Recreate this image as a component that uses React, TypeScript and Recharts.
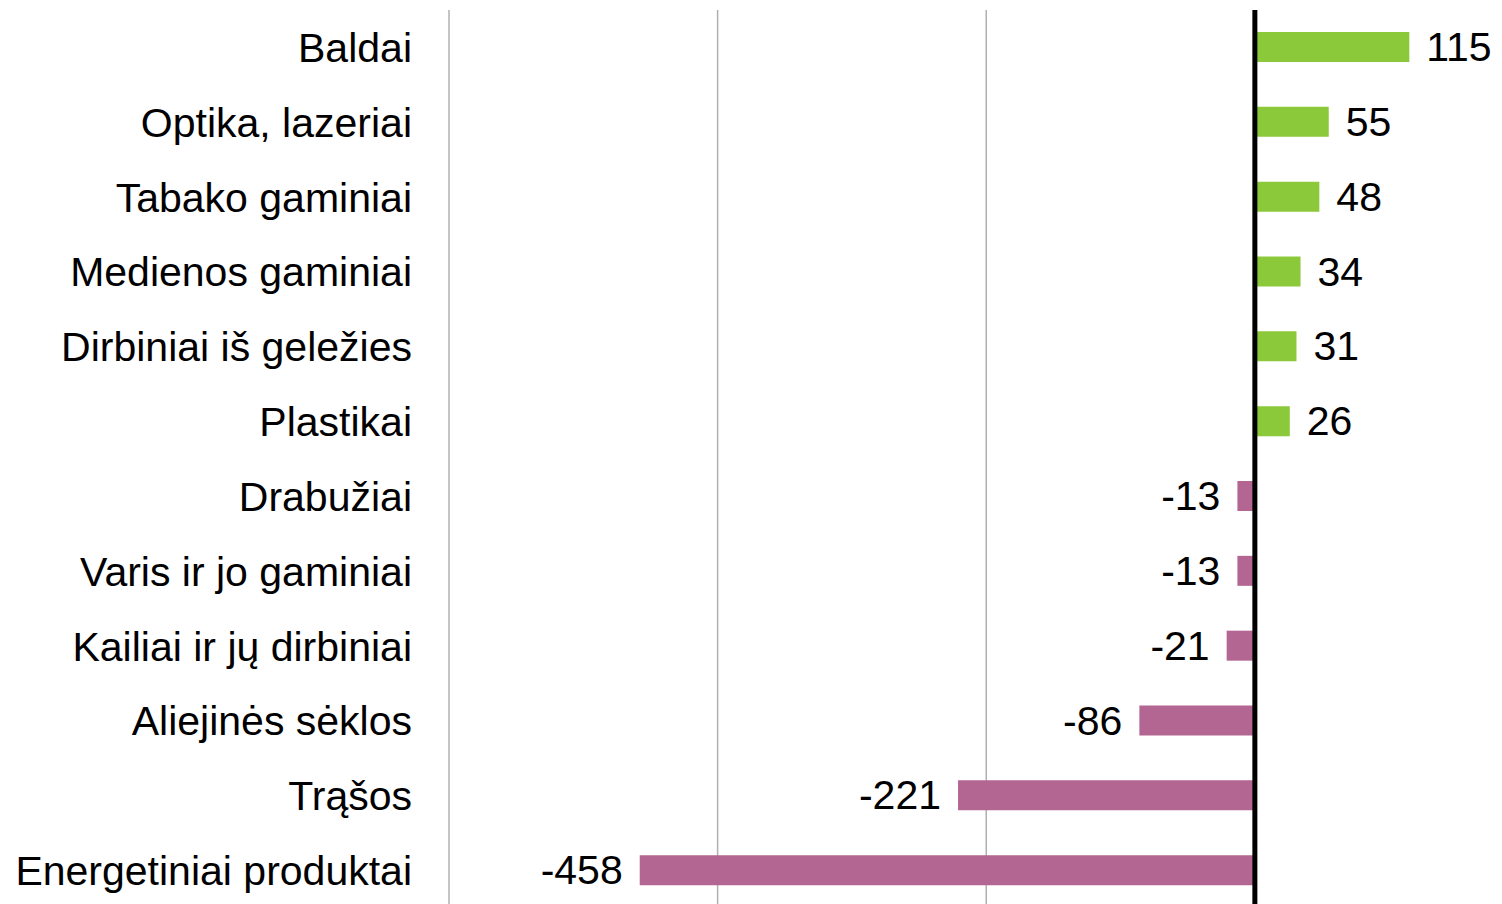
import React from 'react';
import { BarChart, Bar, XAxis, YAxis, CartesianGrid, ReferenceLine, Cell, LabelList } from 'recharts';

const categories = [
  'Baldai',
  'Optika, lazeriai',
  'Tabako gaminiai',
  'Medienos gaminiai',
  'Dirbiniai iš geležies',
  'Plastikai',
  'Drabužiai',
  'Varis ir jo gaminiai',
  'Kailiai ir jų dirbiniai',
  'Aliejinės sėklos',
  'Trąšos',
  'Energetiniai produktai',
];
const values = [115, 55, 48, 34, 31, 26, -13, -13, -21, -86, -221, -458];
const xTicks = [-600, -400, -200, 0];
const gridValues = [-600, -400, -200];

const POS = '#8CC93A';
const NEG = '#B36691';
const FONT = '"Liberation Sans", Arial, sans-serif';

const data = categories.map((name, i) => ({ name, value: values[i] }));

const ValueLabel = (props: any) => {
  const { x, y, width, height, value } = props;
  const left = Math.min(x, x + width);
  const right = Math.max(x, x + width);
  const cy = y + height / 2;
  const neg = value < 0;
  return (
    <text
      x={neg ? left - 17 : right + 17}
      y={cy}
      textAnchor={neg ? 'end' : 'start'}
      dominantBaseline="central"
      fontSize={41}
      fontFamily={FONT}
      fill="#000"
    >
      {value}
    </text>
  );
};

export default function App() {
  return (
    <div style={{ position: 'absolute', left: 0, top: 0, width: 1502, height: 904, overflow: 'hidden', background: '#fff' }}>
      <BarChart
        width={1502}
        height={908}
        data={data}
        layout="vertical"
        margin={{ top: 10, right: 0, bottom: 0, left: 0 }}
      >
        <CartesianGrid horizontal={false} verticalValues={gridValues} stroke="#B0B0B0" strokeWidth={1.5} />
        <XAxis type="number" domain={[-600, 184]} ticks={xTicks} allowDataOverflow hide />
        <YAxis
          type="category"
          dataKey="name"
          width={449}
          axisLine={false}
          tickLine={false}
          tickSize={0}
          tickMargin={37}
          tick={{ fontSize: 41, fontFamily: FONT, fill: '#000' }}
          interval={0}
        />
        <Bar dataKey="value" barSize={30} isAnimationActive={false}>
          {data.map((d, i) => (
            <Cell key={i} fill={d.value < 0 ? NEG : POS} />
          ))}
          <LabelList dataKey="value" content={<ValueLabel />} />
        </Bar>
        <ReferenceLine x={0} stroke="#000" strokeWidth={5} />
      </BarChart>
    </div>
  );
}
